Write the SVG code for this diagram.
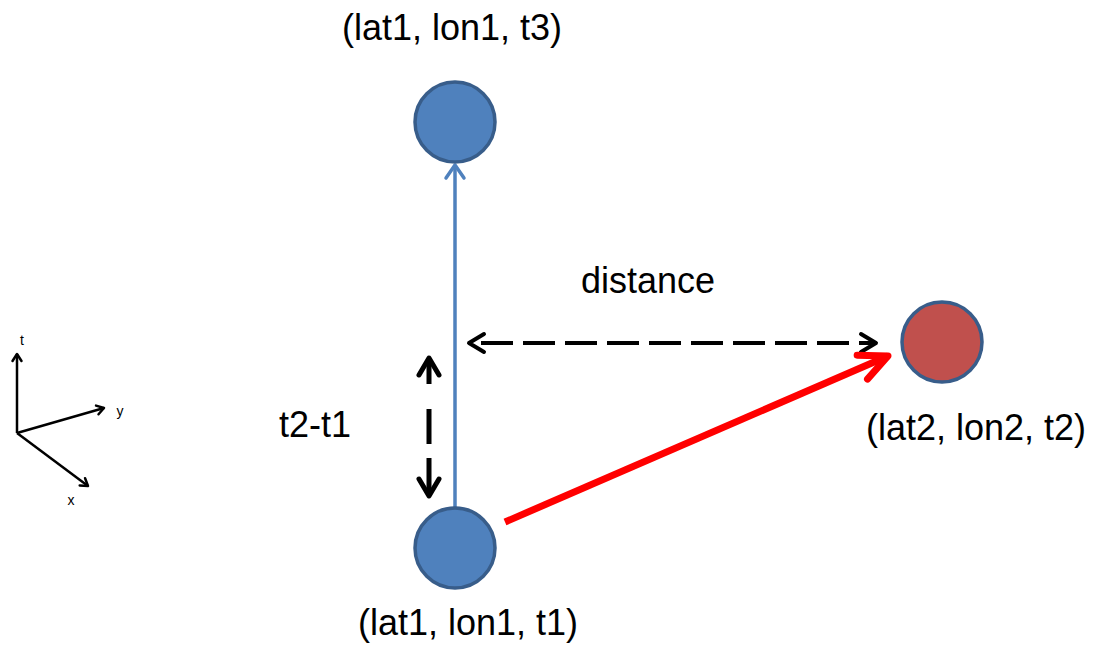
<svg xmlns="http://www.w3.org/2000/svg" width="1101" height="654" viewBox="0 0 1101 654">
<style>
.lbl{font-family:"Liberation Sans",Arial,sans-serif;font-size:36px;fill:#000;text-anchor:middle}
.ax{font-family:"Liberation Sans",Arial,sans-serif;font-size:14px;fill:#000;text-anchor:middle}
.node{fill:#4f81bd;stroke:#385d8a;stroke-width:3.5}
.red{fill:#c0504d}
</style>
<defs>
<marker id="ab" markerUnits="userSpaceOnUse" viewBox="-20 -15 24 30" markerWidth="24" markerHeight="30" refX="0" refY="0" orient="auto" overflow="visible">
<path d="M -13 -9 L 0 0 L -13 9" fill="none" stroke="#4f81bd" stroke-width="3.5" stroke-linejoin="round" stroke-linecap="round"/>
</marker>
<marker id="ak" markerUnits="userSpaceOnUse" viewBox="-20 -15 24 30" markerWidth="24" markerHeight="30" refX="0" refY="0" orient="auto-start-reverse" overflow="visible">
<path d="M -15 -9 L 0 0 L -15 9" fill="none" stroke="#000" stroke-width="4" stroke-linejoin="round" stroke-linecap="round" stroke-dasharray="none"/>
</marker>
<marker id="akv" markerUnits="userSpaceOnUse" viewBox="-20 -15 24 30" markerWidth="24" markerHeight="30" refX="0" refY="0" orient="auto-start-reverse" overflow="visible">
<path d="M -17 -10 L 0 0 L -17 10" fill="none" stroke="#000" stroke-width="5" stroke-linejoin="round" stroke-linecap="round" stroke-dasharray="none"/>
</marker>
<marker id="ar" markerUnits="userSpaceOnUse" viewBox="-30 -15 34 30" markerWidth="34" markerHeight="30" refX="0" refY="0" orient="auto" overflow="visible">
<path d="M -28 -13 L 0 0 L -28 13" fill="none" stroke="#ff0000" stroke-width="7" stroke-linejoin="round" stroke-linecap="round"/>
</marker>
<marker id="ax" markerUnits="userSpaceOnUse" viewBox="-10 -6 12 12" markerWidth="12" markerHeight="12" refX="0" refY="0" orient="auto" overflow="visible">
<path d="M -7 -4.5 L 0 0 L -7 4.5" fill="none" stroke="#000" stroke-width="2.5" stroke-linejoin="round" stroke-linecap="round"/>
</marker>
</defs>
<rect width="1101" height="654" fill="#fff"/>
<g id="connectors">
<line x1="455" y1="508" x2="455" y2="165" stroke="#4f81bd" stroke-width="3.5" marker-end="url(#ab)"/>
<line x1="469" y1="343" x2="876" y2="343" stroke="#000" stroke-width="4" stroke-dasharray="32 10" stroke-dashoffset="-12" marker-start="url(#ak)" marker-end="url(#ak)"/>
<line x1="429" y1="358" x2="429" y2="496" stroke="#000" stroke-width="5" stroke-dasharray="26 25 35 14 40" marker-start="url(#akv)" marker-end="url(#akv)"/>
<line x1="505" y1="522" x2="888" y2="356" stroke="#ff0000" stroke-width="7" marker-end="url(#ar)"/>
</g>
<g id="axes">
<line x1="17" y1="433" x2="17" y2="354" stroke="#000" stroke-width="2.5" marker-end="url(#ax)"/>
<line x1="17" y1="433" x2="104" y2="408" stroke="#000" stroke-width="2.5" marker-end="url(#ax)"/>
<line x1="17" y1="433" x2="88" y2="486" stroke="#000" stroke-width="2.5" marker-end="url(#ax)"/>
<text class="ax" x="22" y="345">t</text>
<text class="ax" x="120" y="416">y</text>
<text class="ax" x="71" y="505">x</text>
</g>
<g id="node-t3">
<circle class="node" cx="455" cy="122" r="40"/>
<text class="lbl" x="452" y="40">(lat1, lon1, t3)</text>
</g>
<g id="node-t1">
<circle class="node" cx="455" cy="548" r="40"/>
<text class="lbl" x="468" y="635">(lat1, lon1, t1)</text>
</g>
<g id="node-t2">
<circle class="node red" cx="942" cy="342" r="40"/>
<text class="lbl" x="976" y="440">(lat2, lon2, t2)</text>
</g>
<g id="labels">
<text class="lbl" x="648" y="293">distance</text>
<text class="lbl" x="315" y="437">t2-t1</text>
</g>
</svg>
